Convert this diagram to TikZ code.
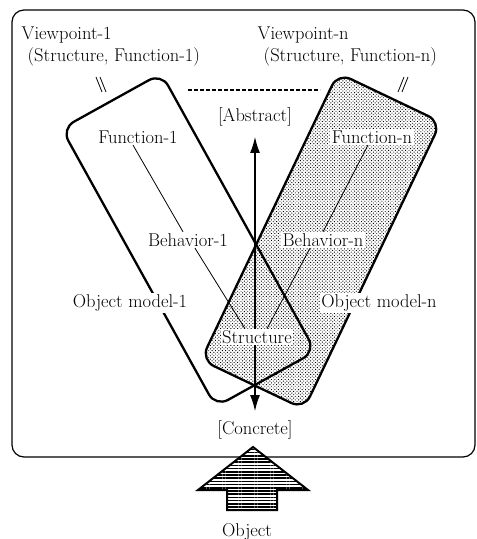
\documentclass[tikz,border=0pt]{standalone}
\usetikzlibrary{arrows.meta,positioning,patterns.meta}

\begin{document}
\begin{tikzpicture}[
    x=1pt, y=-1pt,
    lbl/.style={font=\fontsize{18.5}{22}\selectfont, inner sep=1.5pt, fill=white},
    viewbox/.style={rectangle, draw, line width=2.3pt, rounded corners=14pt, minimum width=114pt, minimum height=318pt, inner sep=0pt},
    stipple/.style={pattern={Dots[distance=2.4pt, radius=0.65pt, angle=45]}},
    thinline/.style={line width=0.8pt},
    vaxis/.style={{Latex[length=17pt,width=10pt]}-{Latex[length=17pt,width=10pt]}, line width=2.5pt},
    dashrule/.style={line width=2.2pt, dash pattern=on 3.5pt off 2.5pt},
    tickmark/.style={line width=0.8pt},
    outerframe/.style={draw, rounded corners=12pt, line width=1.2pt},
    bigarrow/.style={draw, line width=2pt, preaction={fill=white}, pattern={Lines[distance=3.2pt, line width=1.6pt]}}
]
\useasboundingbox (0,0) rectangle (477,539);

\draw[outerframe] (12,10) rectangle (475,457);

\node[viewbox, stipple, rotate=-25.5] (boxn) at (321,241) {};
\node[viewbox, rotate=29] (box1) at (188.5,240) {};

\node[lbl, anchor=west] (vp1) at (20,35) {Viewpoint-1};
\node[lbl, anchor=west] (vp1sub) at (26,57) {(Structure, Function-1)};
\node[lbl, anchor=west] (vpn) at (256,35) {Viewpoint-n};
\node[lbl, anchor=west] (vpnsub) at (262,57) {(Structure, Function-n)};
\draw[tickmark] (96,77) -- (102,92) (100,77) -- (106,92);
\draw[tickmark] (404,77) -- (398,92) (408,77) -- (402,92);

\coordinate (dashL) at (188,90);
\coordinate (dashR) at (320,90);
\draw[dashrule] (dashL) -- (dashR);

\node[lbl] (abs) at (255,117) {[Abstract]};
\node[lbl] (conc) at (255,430) {[Concrete]};
\draw[vaxis, shorten <=8pt, shorten >=7pt] (abs.south) -- (conc.north);

\node[lbl] (f1) at (138,137) {Function-1};
\node[lbl] (fn) at (372,137) {Function-n};
\node[lbl] (b1) at (188,240) {Behavior-1};
\node[lbl] (bn) at (323,240) {Behavior-n};
\node[lbl] (om1) at (130,303) {Object model-1};
\node[lbl] (omn) at (379,303) {Object model-n};
\node[lbl] (st) at (257,337) {Structure};

\draw[thinline] ([xshift=-5pt]f1.south) -- ([xshift=-5pt]b1.north);
\draw[thinline] ([xshift=7pt]b1.south) -- ([xshift=-12pt]st.north);
\draw[thinline] ([xshift=-4pt]fn.south) -- (bn.north);
\draw[thinline] ([xshift=-13pt]bn.south) -- ([xshift=10pt]st.north);

\draw[bigarrow] (253,447) -- (308,490) -- (277,490) -- (277,510) -- (227,510) -- (227,490) -- (198,490) -- cycle;
\node[lbl] (obj) at (247,532) {Object};
\end{tikzpicture}
\end{document}
